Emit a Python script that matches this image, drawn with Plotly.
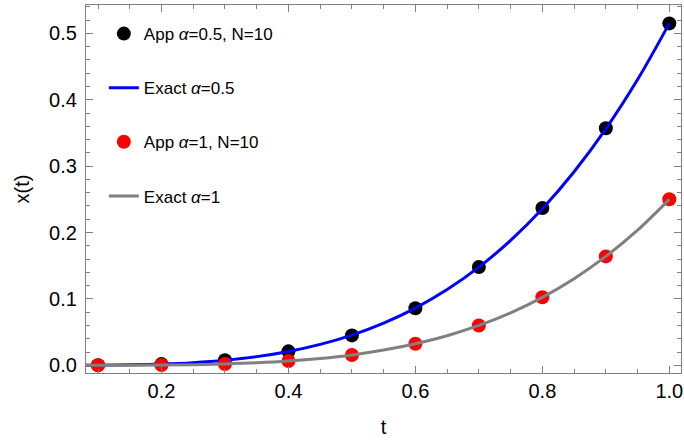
import plotly.graph_objects as go

# ---- data ----
t_points = [0.1, 0.2, 0.3, 0.4, 0.5, 0.6, 0.7, 0.8, 0.9, 1.0]
app_a05 = [0.0002, 0.0018, 0.0076, 0.021, 0.045, 0.086, 0.148, 0.237, 0.357, 0.515]
app_a1 = [0.0000, 0.0004, 0.002, 0.0064, 0.0156, 0.0324, 0.060, 0.1024, 0.164, 0.250]

t_curve = [0.05, 0.10, 0.15, 0.20, 0.25, 0.30, 0.35, 0.40, 0.45, 0.50,
           0.55, 0.60, 0.65, 0.70, 0.75, 0.80, 0.85, 0.90, 0.95, 1.00]
exact_a05 = [0.00001, 0.00016, 0.00067, 0.00184, 0.00402, 0.00762, 0.01306, 0.02085,
             0.03148, 0.04552, 0.06354, 0.08617, 0.11403, 0.14780, 0.18816, 0.23584,
             0.29160, 0.35617, 0.43037, 0.515]
exact_a1 = [0.0, 0.000025, 0.00013, 0.0004, 0.00098, 0.002, 0.00375, 0.0064,
            0.01025, 0.0156, 0.0229, 0.0324, 0.0446, 0.0600, 0.0791, 0.1024,
            0.1305, 0.1640, 0.2036, 0.25]

names = ["App <i>α</i>=0.5, N=10", "Exact <i>α</i>=0.5", "App <i>α</i>=1, N=10", "Exact <i>α</i>=1"]

FONT = "Liberation Sans, Arial, sans-serif"
FRAME = "#808080"

fig = go.Figure()
fig.add_trace(go.Scatter(x=t_points, y=app_a05, mode="markers", name=names[0], legendgroup="a",
                         marker=dict(color="black", size=14), cliponaxis=False))
fig.add_trace(go.Scatter(x=t_curve, y=exact_a05, mode="lines", name=names[1], legendgroup="b",
                         line=dict(color="#0000FF", width=3, shape="spline")))
fig.add_trace(go.Scatter(x=t_points, y=app_a1, mode="markers", name=names[2], legendgroup="c",
                         marker=dict(color="#FF0000", size=14), cliponaxis=False))
fig.add_trace(go.Scatter(x=t_curve, y=exact_a1, mode="lines", name=names[3], legendgroup="d",
                         line=dict(color="#808080", width=3, shape="spline")))

axis_common = dict(
    showline=True, linecolor=FRAME, linewidth=1.3, mirror="ticks",
    ticks="inside", ticklen=7, tickcolor=FRAME, tickwidth=1.3,
    showgrid=False, zeroline=False, automargin=False,
    tickfont=dict(family=FONT, size=20, color="black"),
)

fig.update_xaxes(range=[0.0811, 1.0184], tick0=0, dtick=0.2, tickformat=".1f",
                 minor=dict(ticks="inside", dtick=0.05, ticklen=4, tickcolor=FRAME, tickwidth=1.3,
                            showgrid=False),
                 title=dict(text="t", font=dict(family=FONT, size=20, color="black"), standoff=18),
                 **axis_common)
fig.update_yaxes(range=[-0.0116, 0.5427], tick0=0, dtick=0.1, tickformat=".1f",
                 ticklabelstandoff=4,
                 minor=dict(ticks="inside", dtick=0.02, ticklen=4, tickcolor=FRAME, tickwidth=1.3,
                            showgrid=False),
                 title=dict(text="x(t)", font=dict(family=FONT, size=20, color="black"), standoff=14),
                 **axis_common)

fig.update_layout(
    width=684, height=443,
    margin=dict(l=86, r=3, t=5, b=70),
    paper_bgcolor="white", plot_bgcolor="white",
    font=dict(family=FONT, color="black"),
    showlegend=True,
    legend=dict(x=0.03, y=0.97, xanchor="left", yanchor="top",
                font=dict(family=FONT, size=17, color="black"),
                bgcolor="rgba(0,0,0,0)", tracegroupgap=29, itemwidth=30),
)

fig.write_html("out.html", config={"displayModeBar": False},
               post_script="document.body.style.margin='0';")
